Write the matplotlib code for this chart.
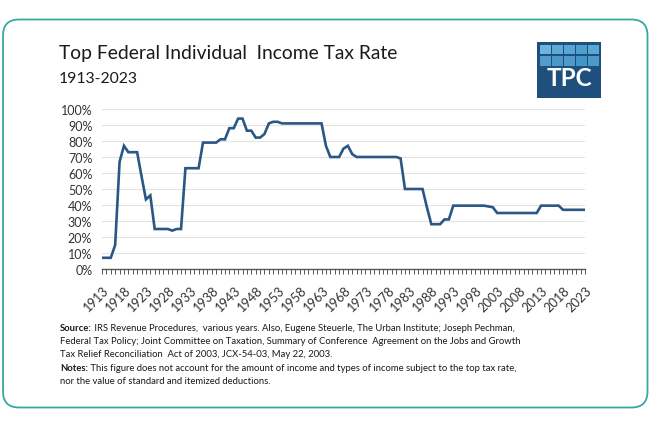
import matplotlib
matplotlib.use("Agg")
import matplotlib.pyplot as plt
from matplotlib.patches import FancyBboxPatch, Rectangle
import numpy as np

plt.rcParams['font.family'] = ['Lato', 'DejaVu Sans']

years = list(range(1913, 2024))
rates = [7, 7, 7, 15, 67, 77, 73, 73, 73, 58, 43.5, 46, 25, 25, 25, 25, 24, 25, 25,
         63, 63, 63, 63, 79, 79, 79, 79, 81.1, 81, 88, 88, 94, 94, 86.45, 86.45,
         82.13, 82.13, 84.36, 91, 92, 92, 91, 91, 91, 91, 91, 91, 91, 91, 91, 91,
         77, 70, 70, 70, 75.25, 77, 71.75, 70, 70, 70, 70, 70, 70, 70, 70, 70, 70,
         69.13, 50, 50, 50, 50, 50, 38.5, 28, 28, 28, 31, 31, 39.6, 39.6, 39.6,
         39.6, 39.6, 39.6, 39.6, 39.6, 39.1, 38.6, 35, 35, 35, 35, 35, 35, 35, 35,
         35, 35, 39.6, 39.6, 39.6, 39.6, 39.6, 37, 37, 37, 37, 37, 37]
yticks = [0, 10, 20, 30, 40, 50, 60, 70, 80, 90, 100]
xtick_labels = list(range(1913, 2024, 5))

title = "Top Federal Individual  Income Tax Rate"
subtitle = "1913-2023"

W, H = 651, 427
fig = plt.figure(figsize=(W / 100, H / 100), dpi=100)

# border
bg = fig.add_axes([0, 0, 1, 1])
bg.set_xlim(0, W)
bg.set_ylim(H, 0)
bg.axis('off')
box = FancyBboxPatch((3, 20.5), 644.5, 388, boxstyle="round,pad=0,rounding_size=16",
                     fc='white', ec='#3aa6a6', lw=1.3)
bg.add_patch(box)

# title
bg.text(59, 58.5, title, fontsize=13.9, color='#1a1a1a', va='baseline', ha='left')
bg.text(59, 83, subtitle, fontsize=11.3, color='#1a1a1a', va='baseline', ha='left')

# logo
bg.add_patch(Rectangle((537, 42.5), 64, 56, fc='#1e4f7d', ec='none'))
top_cols = ['#6cb4dc', '#5eaad6', '#57a6d3', '#4f9fce', '#5aa8d4']
bot_cols = ['#4e9dcc', '#4898c9', '#4c9bcb', '#4495c7', '#4a9aca']
for c in range(5):
    bg.add_patch(Rectangle((540 + c * 12, 45.5), 10.5, 9.5, fc=top_cols[c], ec='none'))
    bg.add_patch(Rectangle((540 + c * 12, 57), 10.5, 9.5, fc=bot_cols[c], ec='none'))
bg.text(569, 86.5, "TPC", fontsize=17.5, fontweight='bold', color='white',
        ha='center', va='baseline')

# chart
ax_l, ax_r = 102, 585
ax_t, ax_b = 110, 270
ax = fig.add_axes([ax_l / W, 1 - ax_b / H, (ax_r - ax_l) / W, (ax_b - ax_t) / H])
ax.plot(years, rates, color='#2a5786', lw=1.9, solid_joinstyle='miter')
ax.set_xlim(1913, 2023)
ax.set_ylim(0, 100)
ax.set_yticks(yticks)
ax.set_yticklabels([f"{v}%" for v in yticks])
for v in yticks[1:]:
    ax.axhline(v, color='#e4e4e4', lw=0.8, zorder=0)
for s in ['top', 'right', 'left']:
    ax.spines[s].set_visible(False)
ax.spines['bottom'].set_color('#555555')
ax.spines['bottom'].set_linewidth(1.0)
ax.tick_params(axis='y', length=0, labelsize=9.0, labelcolor='#333333', pad=7)
ax.set_xticks(years, minor=True)
ax.set_xticks(xtick_labels)
ax.set_xticklabels([str(y) for y in xtick_labels], rotation=45, ha='right',
                   rotation_mode='anchor')
ax.tick_params(axis='x', which='both', direction='out', length=3.5, width=0.7,
               color='#555555', labelsize=9.2, labelcolor='#333333', pad=7)

# footnotes
fx = 60
fs = 6.85
lines = [
    ("Source:", " IRS Revenue Procedures,  various years. Also, Eugene Steuerle, The Urban Institute; Joseph Pechman,"),
    ("", "Federal Tax Policy; Joint Committee on Taxation, Summary of Conference  Agreement on the Jobs and Growth"),
    ("", "Tax Relief Reconciliation  Act of 2003, JCX-54-03, May 22, 2003."),
    ("Notes:", " This figure does not account for the amount of income and types of income subject to the top tax rate,"),
    ("", "nor the value of standard and itemized deductions."),
]
y0 = 331
for i, (b, t) in enumerate(lines):
    y = y0 + i * 13.2
    if b:
        tb = bg.text(fx, y, b, fontsize=fs, fontweight='bold', color='#1a1a1a', va='baseline')
        fig.canvas.draw()
        bb = tb.get_window_extent()
        bg.text(bb.x1, H - y, t, fontsize=fs, color='#1a1a1a', va='baseline',
                transform=None)
    else:
        bg.text(fx, y, t, fontsize=fs, color='#1a1a1a', va='baseline')

fig.savefig('out.png', dpi=100)
